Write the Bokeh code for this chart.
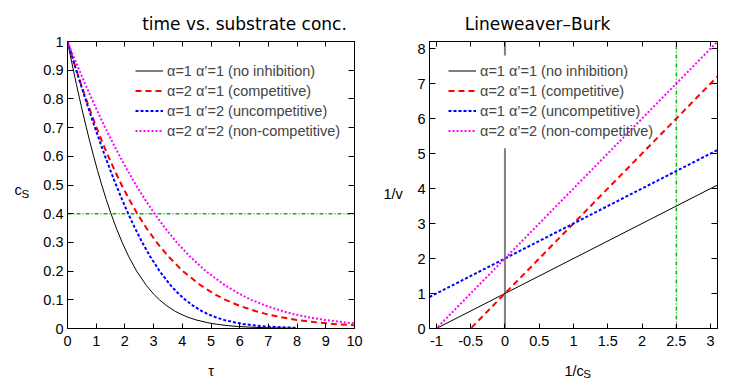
from bokeh.plotting import figure
from bokeh.models import (LinearAxis, FixedTicker, NumeralTickFormatter, Label,
                          Legend, LegendItem, Range1d, CustomLabelingPolicy)
from bokeh.layouts import row
from bokeh.embed import file_html
from bokeh.resources import INLINE

# ---------------- data ----------------
# left panel: substrate concentration c_S vs time tau
none_tau = [0, 0.101, 0.205, 0.313, 0.423, 0.538, 0.657, 0.781, 0.911, 1.048, 1.193,
            1.349, 1.516, 1.700, 1.904, 2.136, 2.409, 2.747, 3.000, 3.203, 3.446, 3.753,
            3.946, 4.179, 4.477, 4.892, 5.185, 5.595, 5.955, 6.293, 6.806, 7.213, 7.907]
none_c = [1, 0.95, 0.9, 0.85, 0.8, 0.75, 0.7, 0.65, 0.6, 0.55, 0.5, 0.45, 0.4, 0.35, 0.3,
          0.25, 0.2, 0.15, 0.12, 0.1, 0.08, 0.06, 0.05, 0.04, 0.03, 0.02, 0.015, 0.01,
          0.007, 0.005, 0.003, 0.002, 0.001]

comp_tau = [0, 0.153, 0.311, 0.475, 0.646, 0.825, 1.013, 1.212, 1.422, 1.646, 1.886,
            2.147, 2.433, 2.750, 3.108, 3.523, 4.019, 4.644, 5.121, 5.505, 5.971, 6.567,
            6.942, 7.398, 7.983, 8.804, 9.384, 10.0]
comp_c = [1, 0.95, 0.9, 0.85, 0.8, 0.75, 0.7, 0.65, 0.6, 0.55, 0.5, 0.45, 0.4, 0.35, 0.3,
          0.25, 0.2, 0.15, 0.12, 0.1, 0.08, 0.06, 0.05, 0.04, 0.03, 0.02, 0.015, 0.011]

uncomp_tau = [0, 0.151, 0.305, 0.463, 0.623, 0.788, 0.957, 1.131, 1.311, 1.498, 1.693,
              1.899, 2.116, 2.350, 2.604, 2.886, 3.209, 3.597, 3.880, 4.103, 4.366, 4.693,
              4.896, 5.139, 5.447, 5.872, 6.170, 6.585, 6.948, 7.288, 7.803, 8.0]
uncomp_c = [1, 0.95, 0.9, 0.85, 0.8, 0.75, 0.7, 0.65, 0.6, 0.55, 0.5, 0.45, 0.4, 0.35, 0.3,
            0.25, 0.2, 0.15, 0.12, 0.1, 0.08, 0.06, 0.05, 0.04, 0.03, 0.02, 0.015, 0.01,
            0.007, 0.005, 0.003, 0.0025]

noncomp_tau = [0, 0.203, 0.411, 0.625, 0.846, 1.075, 1.313, 1.562, 1.822, 2.096, 2.386,
               2.697, 3.033, 3.400, 3.808, 4.273, 4.819, 5.494, 6.001, 6.405, 6.891, 7.507,
               7.891, 8.358, 8.953, 9.784, 10.0]
noncomp_c = [1, 0.95, 0.9, 0.85, 0.8, 0.75, 0.7, 0.65, 0.6, 0.55, 0.5, 0.45, 0.4, 0.35, 0.3,
             0.25, 0.2, 0.15, 0.12, 0.1, 0.08, 0.06, 0.05, 0.04, 0.03, 0.02, 0.018]

c_mark = 0.4
tau_span = [0, 10]

# right panel: Lineweaver-Burk 1/v vs 1/c_S
lb_x = [-1.1, 3.1]
none_inv = [-0.1, 4.1]
comp_inv = [-1.2, 7.2]
uncomp_inv = [0.9, 5.1]
noncomp_inv = [-0.2, 8.2]
inv_c_mark = 2.5
inv_v_span = [0, 8.2]
zero_x = 0
zero_lower = [0, 5.15]
zero_upper = [7.8, 8.2]

labels = ["α=1 α’=1 (no inhibition)", "α=2 α’=1 (competitive)",
          "α=1 α’=2 (uncompetitive)", "α=2 α’=2 (non-competitive)"]

left_xticks = [0, 1, 2, 3, 4, 5, 6, 7, 8, 9, 10]
left_yticks = [0, 0.1, 0.2, 0.3, 0.4, 0.5, 0.6, 0.7, 0.8, 0.9, 1]
right_xticks = [-1, -0.5, 0, 0.5, 1, 1.5, 2, 2.5, 3]
right_yticks = [0, 1, 2, 3, 4, 5, 6, 7, 8]

FONT = "Liberation Sans"
TFONT = "DejaVu Sans"
FS = "14.5px"

styles = [dict(line_color="black", line_width=1),
          dict(line_color="#ff0000", line_width=2, line_dash="6 4"),
          dict(line_color="#0000ff", line_width=2, line_dash="3 2"),
          dict(line_color="#ff00ff", line_width=2, line_dash="2 2")]
green = dict(line_color="#00c000", line_width=1.5, line_dash="4 2 1 2")

H = 381
TOP, BOTTOM = 41, 328          # frame top / bottom (page px)

NO_LABELS = "for (const i of indices) { indices.unset(i) }\nreturn indices"


def style_axis(ax, ticks, tick_len, standoff, show_labels=True):
    ax.ticker = FixedTicker(ticks=ticks)
    ax.formatter = NumeralTickFormatter(format="0.[0]")
    ax.major_tick_in = tick_len
    ax.major_tick_out = 0
    ax.minor_tick_in = 0
    ax.minor_tick_out = 0
    ax.major_tick_line_color = "black"
    ax.axis_line_color = "black"
    ax.axis_line_width = 1
    if show_labels:
        ax.major_label_text_font = FONT
        ax.major_label_text_font_size = FS
        ax.major_label_text_color = "black"
        ax.major_label_standoff = standoff
    else:
        ax.major_label_text_font_size = "0px"
        ax.major_label_standoff = 0
        ax.major_label_policy = CustomLabelingPolicy(code=NO_LABELS)


def make_fig(width, xr, yr, xticks, yticks, bl, br):
    p = figure(width=width, height=H, x_range=Range1d(*xr), y_range=Range1d(*yr),
               output_backend="svg", toolbar_location=None, title=None,
               min_border_left=bl, min_border_right=br, min_border_top=TOP,
               min_border_bottom=H - BOTTOM)
    p.grid.visible = False
    p.outline_line_color = "black"
    p.background_fill_color = "white"
    p.border_fill_color = "white"
    style_axis(p.xaxis[0], xticks, 5, 7)
    style_axis(p.yaxis[0], yticks, 6, 4)
    top = LinearAxis()
    style_axis(top, xticks, 5, 0, show_labels=False)
    p.add_layout(top, "above")
    right = LinearAxis()
    style_axis(right, yticks, 6, 0, show_labels=False)
    p.add_layout(right, "right")
    return p


def add_legend(p, renderers, vx, vy):
    items = [LegendItem(label=lab, renderers=[r]) for lab, r in zip(labels, renderers)]
    leg = Legend(items=items, location=(vx, vy), padding=0, margin=0, spacing=3,
                 glyph_width=28, glyph_height=17, label_height=17, label_standoff=4,
                 label_text_font=FONT, label_text_font_size=FS,
                 background_fill_alpha=0, border_line_alpha=0)
    p.add_layout(leg)


def add_text(p, frame, place, px, py, text, size=FS, font=FONT, align="left"):
    # frame = (left_px, right_px, x0, x1, y0, y1); converts a page position to data units
    fl, fr, x0, x1, y0, y1 = frame
    x = x0 + (px - fl) / (fr - fl) * (x1 - x0)
    y = y0 + (BOTTOM - py) / (BOTTOM - TOP) * (y1 - y0)
    p.add_layout(Label(x=x, y=y, text=text, text_font=font, text_font_size=size,
                       text_color="black", text_align=align,
                       text_baseline="alphabetic"), place)


# ---------------- left panel ----------------
p1 = make_fig(370, (0, 10), (0, 1), left_xticks, left_yticks, 67, 16)
p1.line(tau_span, [c_mark, c_mark], **green)
rs1 = [p1.line(none_tau, none_c, **styles[0]),
       p1.line(comp_tau, comp_c, **styles[1]),
       p1.line(uncomp_tau, uncomp_c, **styles[2]),
       p1.line(noncomp_tau, noncomp_c, **styles[3])]
add_legend(p1, rs1, 68, 189)
F1 = (67, 354, 0, 10, 0, 1)
add_text(p1, F1, "above", 244, 23.3, "time vs. substrate conc.", size="17px", font=TFONT,
         align="center")
add_text(p1, F1, "left", 14, 189, "c")
add_text(p1, F1, "left", 21, 193, "S", size="11.5px")
add_text(p1, F1, "left", 210.5, 370, "τ", align="center")

# ---------------- right panel ----------------
p2 = make_fig(360, (-1.1, 3.1), (0, 8.2), right_xticks, right_yticks, 59, 13)
p2.line([zero_x, zero_x], zero_lower, line_color="#808080", line_width=2)
p2.line([zero_x, zero_x], zero_upper, line_color="#808080", line_width=2)
p2.line([inv_c_mark, inv_c_mark], inv_v_span, **green)
rs2 = [p2.line(lb_x, none_inv, **styles[0]),
       p2.line(lb_x, comp_inv, **styles[1]),
       p2.line(lb_x, uncomp_inv, **styles[2]),
       p2.line(lb_x, noncomp_inv, **styles[3])]
add_legend(p2, rs2, 19, 189)
F2 = (429, 717, -1.1, 3.1, 0, 8.2)
add_text(p2, F2, "above", 537, 23.3, "Lineweaver–Burk", size="17px", font=TFONT,
         align="center")
add_text(p2, F2, "left", 383, 193, "1/v")
add_text(p2, F2, "below", 564, 370, "1/c")
add_text(p2, F2, "right", 582.7, 373.5, "S", size="11.5px")

layout = row(p1, p2)
open("out.html", "w").write(file_html(layout, INLINE))
